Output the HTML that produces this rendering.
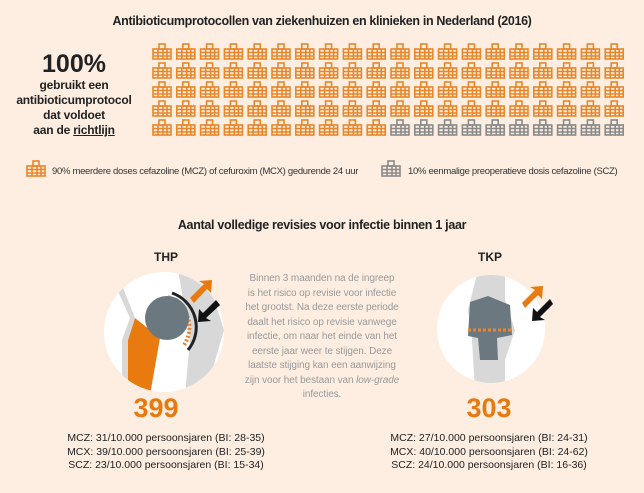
<!DOCTYPE html>
<html><head><meta charset="utf-8"><style>
body{margin:0;width:644px;height:493px;background:#fdeee1;font-family:"Liberation Sans",sans-serif;position:relative;overflow:hidden}
.a{position:absolute;white-space:nowrap}
.c{text-align:center}
</style></head><body>
<div class="a c" style="left:0;width:644px;top:14px;font-size:12.5px;letter-spacing:-0.35px;font-weight:bold;color:#222">Antibioticumprotocollen van ziekenhuizen en klinieken in Nederland (2016)</div>
<div class="a c" style="left:14px;width:120px;top:50px;font-size:25px;font-weight:bold;color:#222">100%</div>
<div class="a c" style="left:14px;width:120px;top:78px;font-size:12px;font-weight:bold;color:#222;line-height:15px;letter-spacing:-0.2px">gebruikt een<br>antibioticumprotocol<br>dat voldoet<br>aan de <u>richtlijn</u></div>
<svg class="a" style="left:0;top:0" width="644" height="493">
<defs>
<g id="h" fill="none" stroke-width="1.6">
<rect x="7" y="1" width="6" height="5"/><rect x="1" y="6" width="18" height="10"/>
<line x1="1" y1="9.5" x2="19" y2="9.5"/><line x1="1" y1="13" x2="19" y2="13"/>
<line x1="6" y1="6" x2="6" y2="16"/><line x1="11" y1="6" x2="11" y2="16"/><line x1="15" y1="6" x2="15" y2="16"/>
</g>
<clipPath id="c1"><circle cx="164" cy="332" r="60"/></clipPath>
<clipPath id="c2"><circle cx="491" cy="329" r="54"/></clipPath>
</defs>
<g id="grid"></g>
<use href="#h" x="26" y="160" stroke="#e8872a"/>
<use href="#h" x="381" y="160" stroke="#8a8a8a"/>
<circle cx="164" cy="332" r="60" fill="#fff"/>
<g clip-path="url(#c1)">
<path d="M178 270 L205 270 L224 330 L205 395 L185 395 L190 340 Z" fill="#d8d8d8"/>
<path d="M135 318 L160 338 L150 395 L128 395 L128 340 Z" fill="#e87a10"/>
<path d="M120 280 L135 318 L128 340 L128 395 L110 395 L110 280 Z" fill="#d8d8d8"/>
<path d="M113 280 L130 318 L122 340 L122 395 L104 395 L104 280 Z" fill="#fff"/>
</g>
<path d="M172 293 A36 36 0 0 1 188 350" fill="none" stroke="#222" stroke-width="3"/>
<path d="M168 297 A32 32 0 0 1 184 345" fill="none" stroke="#e8872a" stroke-width="4" stroke-dasharray="2 2"/>
<circle cx="167" cy="318" r="22" fill="#6b7880"/>
<path d="M190 298 L204 284 L199 281 L212 280 L211 293 L207 289 L194 303 Z" fill="#e87a10"/>
<path d="M220 305 L206 318 L211 321 L198 322 L199 309 L203 313 L216 300 Z" fill="#111"/>
<circle cx="491" cy="329" r="54" fill="#fff"/>
<g clip-path="url(#c2)">
<path d="M478 270 L505 270 L505 300 L515 330 L505 360 L505 390 L475 390 L472 340 L468 310 Z" fill="#d8d8d8"/>
</g>
<path d="M470 302 L488 296 L510 305 L512 335 L497 338 L498 360 L480 360 L478 338 L468 336 Z" fill="#6b7880"/>
<line x1="468" y1="330" x2="513" y2="330" stroke="#e8872a" stroke-width="3" stroke-dasharray="3 2"/>
<path d="M522 303 L535 290 L530 287 L543 286 L542 299 L538 295 L525 308 Z" fill="#e87a10"/>
<path d="M553 304 L540 317 L545 320 L532 321 L533 308 L537 312 L550 299 Z" fill="#111"/>
</svg>
<div class="a" style="left:52px;top:166px;font-size:9.5px;letter-spacing:-0.3px;color:#333">90% meerdere doses cefazoline (MCZ) of cefuroxim (MCX) gedurende 24 uur</div>
<div class="a" style="left:408px;top:166px;font-size:9.5px;letter-spacing:-0.3px;color:#333">10% eenmalige preoperatieve dosis cefazoline (SCZ)</div>
<div class="a c" style="left:0;width:644px;top:218px;font-size:12.5px;letter-spacing:-0.3px;font-weight:bold;color:#222">Aantal volledige revisies voor infectie binnen 1 jaar</div>
<div class="a c" style="left:126px;width:80px;top:250px;font-size:12px;font-weight:bold;color:#222">THP</div>
<div class="a c" style="left:450px;width:80px;top:250px;font-size:12px;font-weight:bold;color:#222">TKP</div>
<div class="a c" style="left:222px;width:200px;top:272px;font-size:10px;line-height:14.5px;color:#9a9a9a;letter-spacing:-0.1px">Binnen 3 maanden na de ingreep<br>is het risico op revisie voor infectie<br>het grootst. Na deze eerste periode<br>daalt het risico op revisie vanwege<br>infectie, om naar het einde van het<br>eerste jaar weer te stijgen. Deze<br>laatste stijging kan een aanwijzing<br>zijn voor het bestaan van <i>low-grade</i><br>infecties.</div>
<div class="a c" style="left:106px;width:100px;top:393px;font-size:27px;font-weight:bold;color:#e8790f">399</div>
<div class="a c" style="left:439px;width:100px;top:393px;font-size:27px;font-weight:bold;color:#e8790f">303</div>
<div class="a c" style="left:66px;width:200px;top:432px;font-size:10.5px;line-height:13.5px;color:#222">MCZ: 31/10.000 persoonsjaren (BI: 28-35)<br>MCX: 39/10.000 persoonsjaren (BI: 25-39)<br>SCZ: 23/10.000 persoonsjaren (BI: 15-34)</div>
<div class="a c" style="left:389px;width:200px;top:432px;font-size:10.5px;line-height:13.5px;color:#222">MCZ: 27/10.000 persoonsjaren (BI: 24-31)<br>MCX: 40/10.000 persoonsjaren (BI: 24-62)<br>SCZ: 24/10.000 persoonsjaren (BI: 16-36)</div>
<script>
var g=document.getElementById('grid'),s='';
for(var r=0;r<5;r++)for(var c=0;c<20;c++){var i=r*20+c;s+='<use href="#h" x="'+(152+c*23.8)+'" y="'+(43+r*19)+'" stroke="'+(i<90?'#e8872a':'#8a8a8a')+'"/>';}
g.innerHTML=s;
</script>
</body></html>
